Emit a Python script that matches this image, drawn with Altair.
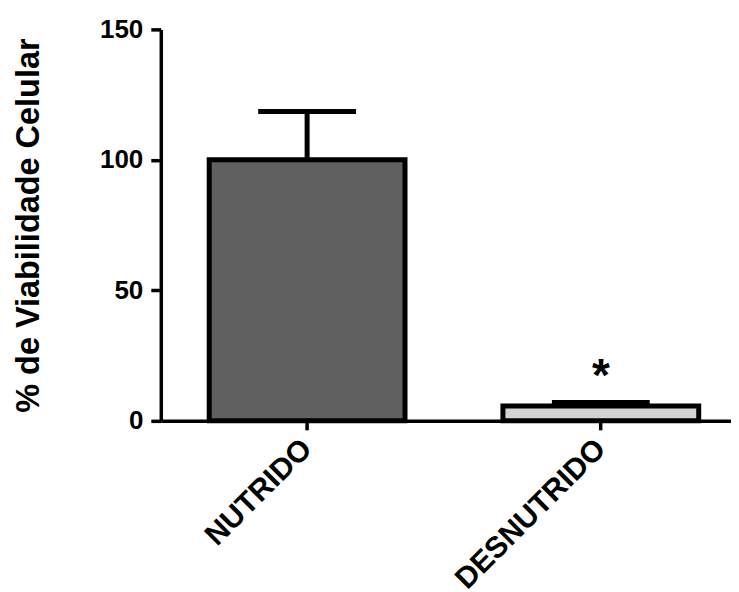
import altair as alt
import pandas as pd

categories = ["NUTRIDO", "DESNUTRIDO"]
means = [100.0, 5.7]
errors = [18.5, 1.3]
fills = ["#606060", "#d3d3d3"]
signif = ["", "*"]

df = pd.DataFrame({"grupo": categories, "media": means, "erro": errors,
                   "cor": fills, "sig": signif})
df["sup"] = df["media"] + df["erro"]

FONT = "Liberation Sans"

x = alt.X("grupo:N", sort=categories, title=None,
          scale=alt.Scale(paddingInner=1/3, paddingOuter=0.1374, align=0.6),
          axis=alt.Axis(labelAngle=-45, labelFontSize=30, labelFont=FONT,
                        labelFontWeight="bold", labelColor="black",
                        labelLimit=500,
                        tickSize=9, tickWidth=3.5, tickColor="black",
                        domainColor="black", domainWidth=3.5, labelPadding=14))
y_axis = alt.Axis(values=[0, 50, 100, 150], labelFontSize=26, labelFont=FONT,
                  labelFontWeight="bold", labelColor="black", tickSize=10,
                  tickWidth=3.5, tickColor="black", domainColor="black",
                  domainWidth=3.5, labelPadding=8, titleFontSize=32.5,
                  titleFont=FONT, titleFontWeight="bold", titleColor="black",
                  titlePadding=54, grid=False)
y = alt.Y("media:Q", title="% de Viabilidade Celular",
          scale=alt.Scale(domain=[0, 150], nice=False), axis=y_axis)

base = alt.Chart(df)

bars = base.mark_bar(stroke="black", strokeWidth=5).encode(
    x=x, y=y, color=alt.Color("cor:N", scale=None))
stem = base.mark_rule(color="black", strokeWidth=5, opacity=1).encode(
    x=alt.X("grupo:N", sort=categories), y="media:Q", y2="sup:Q")
cap = base.mark_tick(color="black", orient="horizontal", size=98,
                     thickness=5, opacity=1).encode(
    x=alt.X("grupo:N", sort=categories), y="sup:Q")
star = base.mark_text(font=FONT, fontSize=46, fontWeight="bold",
                      baseline="alphabetic", dy=-11.5, color="black").encode(
    x=alt.X("grupo:N", sort=categories), y="sup:Q", text="sig:N")

chart = alt.layer(stem, bars, cap, star).properties(
    width=571, height=392,
    padding={"left": 4, "top": 8, "right": 0, "bottom": 0},
).configure_view(stroke=None).configure_axis(grid=False)

chart.save("out.html", embed_options={"renderer": "svg", "actions": False})
